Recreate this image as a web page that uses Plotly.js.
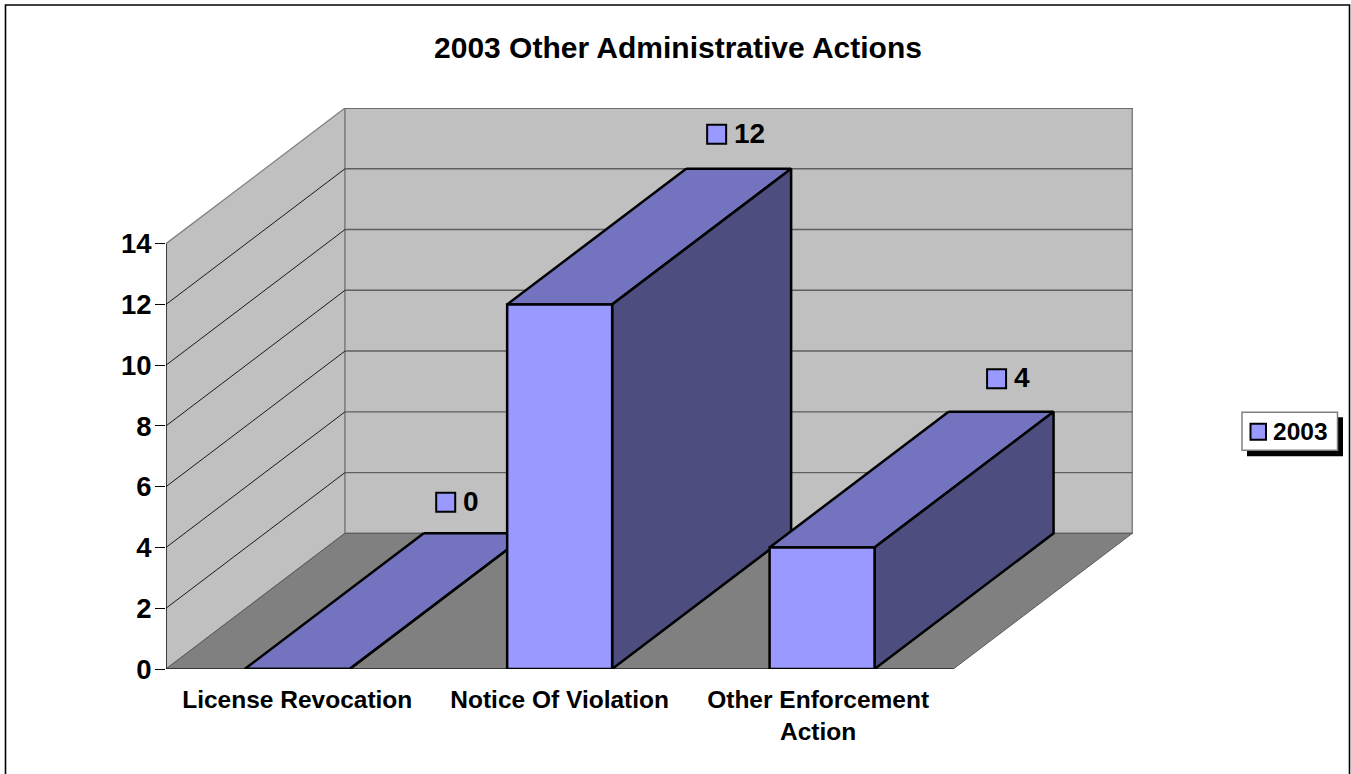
<!DOCTYPE html>
<html>
<head>
<meta charset="utf-8">
<title>2003 Other Administrative Actions</title>
<script src="https://cdn.plot.ly/plotly-3.0.1.min.js"></script>
<style>
  html, body { margin: 0; padding: 0; background: #fff; overflow: hidden; }
  #chart { width: 1351px; height: 774px; }
</style>
</head>
<body>
<div id="chart"></div>
<script>
// Chart data
const chartTitle = "2003 Other Administrative Actions";
const seriesName = "2003";
const categories = ["License Revocation", "Notice Of Violation", "Other Enforcement<br>Action"];
const values = [0, 12, 4];
const yTicks = [0, 2, 4, 6, 8, 10, 12, 14];

// Plot box in pixels and the oblique projection of the box depth
const FONT = '"Liberation Sans", Arial, sans-serif';
const box = { left: 166, right: 1133, top: 107.6, bottom: 669 };
const pxPerCat = 262.43;
const depthPx = { x: 179, y: 135.7 };
const yMax = 14;
const pxPerVal = (box.bottom - box.top) / 18.47;
const DX = depthPx.x / pxPerCat;
const DY = depthPx.y / pxPerVal;
const nCat = categories.length;
const barHalf = 0.2;

// Face colours
const wallColor = "#c0c0c0", floorColor = "#808080";
const faceFront = "#9999ff", faceTop = "#7373bf", faceSide = "#4d4d80";

function poly(xs, ys, fill, lineColor, lineWidth) {
  return { type: "scatter", mode: "lines", x: xs.concat(xs[0]), y: ys.concat(ys[0]),
    fill: "toself", fillcolor: fill, line: { color: lineColor, width: lineWidth, simplify: false },
    hoverinfo: "skip", showlegend: false, cliponaxis: false };
}
function path(xs, ys, color, width) {
  return { type: "scatter", mode: "lines", x: xs, y: ys, line: { color: color, width: width, simplify: false },
    hoverinfo: "skip", showlegend: false, cliponaxis: false };
}

const traces = [];

// Walls and floor of the 3D box
traces.push(poly([0, 0, DX, DX], [0, yMax, yMax + DY, DY], wallColor, "#808080", 1.3));
traces.push(poly([DX, DX, nCat + DX, nCat + DX], [DY, yMax + DY, yMax + DY, DY], wallColor, "#808080", 1.5));
traces.push(poly([0, nCat, nCat + DX, DX], [0, 0, DY, DY], floorColor, "#5a5a5a", 1));

// Gridlines run along the side wall, then across the back wall
const inner = yTicks.filter(v => v > 0 && v < yMax);
const sideX = [], sideY = [], backX = [], backY = [];
inner.forEach(v => {
  sideX.push(0, DX, null); sideY.push(v, v + DY, null);
});
inner.concat(yMax).forEach(v => {
  backX.push(DX, nCat + DX, null); backY.push(v + DY, v + DY, null);
});
traces.push(path(sideX, sideY, "#1a1a1a", 1));
traces.push(path(backX, backY, "#5f5f5f", 1.4));

// Axis lines along the front edge of the box
traces.push(path([0, 0], [0, yMax], "#000", 1.2));
traces.push(path([0, nCat], [0, 0], "#000", 1.2));

// Columns, left to right so nearer faces cover the ones behind
values.forEach((v, i) => {
  const a = i + 0.5 - barHalf, b = i + 0.5 + barHalf;
  traces.push(poly([a + DX, b + DX, b, a], [v + DY, v + DY, v, v], faceTop, "#000", 2.5));
  traces.push(poly([b, b + DX, b + DX, b], [0, DY, v + DY, v], faceSide, "#000", 2.5));
  traces.push(poly([a, b, b, a], [0, 0, v, v], faceFront, "#000", 2.5));
});

// Value keys, placed relative to the back edge of each column top
const keyShift = { x: [-30.5, -22, -4.5], y: [31, 34.5, 33] };
const keyX = values.map((v, i) => i + 0.5 + DX + keyShift.x[i] / pxPerCat);
const keyY = values.map((v, i) => v + DY + keyShift.y[i] / pxPerVal);
traces.push({
  type: "scatter", mode: "markers", x: keyX, y: keyY,
  marker: { symbol: "square", size: 19, color: faceFront, line: { color: "#000", width: 2 } },
  hoverinfo: "skip", showlegend: false, cliponaxis: false
});

// Value labels beside their keys
const valueLabels = values.map((v, i) => ({
  xref: "x", yref: "y", x: keyX[i], y: keyY[i], xanchor: "left", yanchor: "middle",
  xshift: 15.5, yshift: 1, showarrow: false, text: "<b>" + v + "</b>",
  font: { family: FONT, size: 28, color: "#000" }
}));

// Pixel helpers for items that sit outside the plot box
const px = x => (x - box.left) / (box.right - box.left);
const py = y => (box.bottom - y) / (box.bottom - box.top);
function rect(x0, y0, x1, y1, fill, lineColor, width) {
  return { type: "rect", xref: "paper", yref: "paper", layer: "above",
    x0: px(x0), x1: px(x1), y0: py(y1), y1: py(y0),
    fillcolor: fill, line: { color: lineColor, width: width } };
}

const shapes = [
  rect(5.5, 4.5, 1349.5, 790, "rgba(0,0,0,0)", "#000", 1.6),
  rect(1247, 417, 1343, 456, "#000", "#000", 0),
  rect(1242, 412, 1337.5, 450, "#fff", "#808080", 1.5),
  rect(1250.5, 423.5, 1266, 439.5, faceFront, "#000", 2)
];

// The wrapped last label sits slightly left of its slot centre
const tickNudge = [0, 0, -0.015];

const layout = {
  width: 1351, height: 774,
  margin: { l: box.left, r: 1351 - box.right, t: box.top, b: 774 - box.bottom, pad: 0 },
  paper_bgcolor: "#fff", plot_bgcolor: "rgba(0,0,0,0)",
  showlegend: false,
  font: { family: FONT, color: "#000" },
  title: { text: "<b>" + chartTitle + "</b>", font: { family: FONT, size: 30, color: "#000" },
    x: 678 / 1351, xref: "container", xanchor: "center",
    y: 1 - 47.5 / 774, yref: "container", yanchor: "middle" },
  xaxis: {
    range: [0, (box.right - box.left) / pxPerCat], showgrid: false, zeroline: false, showline: false,
    tickmode: "array", tickvals: categories.map((c, i) => i + 0.5 + tickNudge[i]),
    ticktext: categories.map(c => "<b>" + c.split("<br>").join("</b><br><b>") + "</b>"),
    ticks: "outside", ticklen: 9, tickcolor: "rgba(0,0,0,0)",
    tickfont: { family: FONT, size: 24.5, color: "#000" }
  },
  yaxis: {
    range: [0, yMax + DY], showgrid: false, zeroline: false, showline: false,
    tickmode: "array", tickvals: yTicks, ticktext: yTicks.map(v => "<b>" + v + "</b>"),
    ticks: "outside", ticklen: 10, tickwidth: 1, tickcolor: "#000", ticklabelstandoff: -2,
    tickfont: { family: FONT, size: 27.5, color: "#000" }
  },
  shapes: shapes,
  annotations: valueLabels.concat([{
    xref: "paper", yref: "paper", x: px(1300), y: py(431.5), xanchor: "center", yanchor: "middle",
    text: "<b>" + seriesName + "</b>", showarrow: false, font: { family: FONT, size: 24.5, color: "#000" }
  }])
};

Plotly.newPlot("chart", traces, layout, { displayModeBar: false, staticPlot: true });
</script>
</body>
</html>
